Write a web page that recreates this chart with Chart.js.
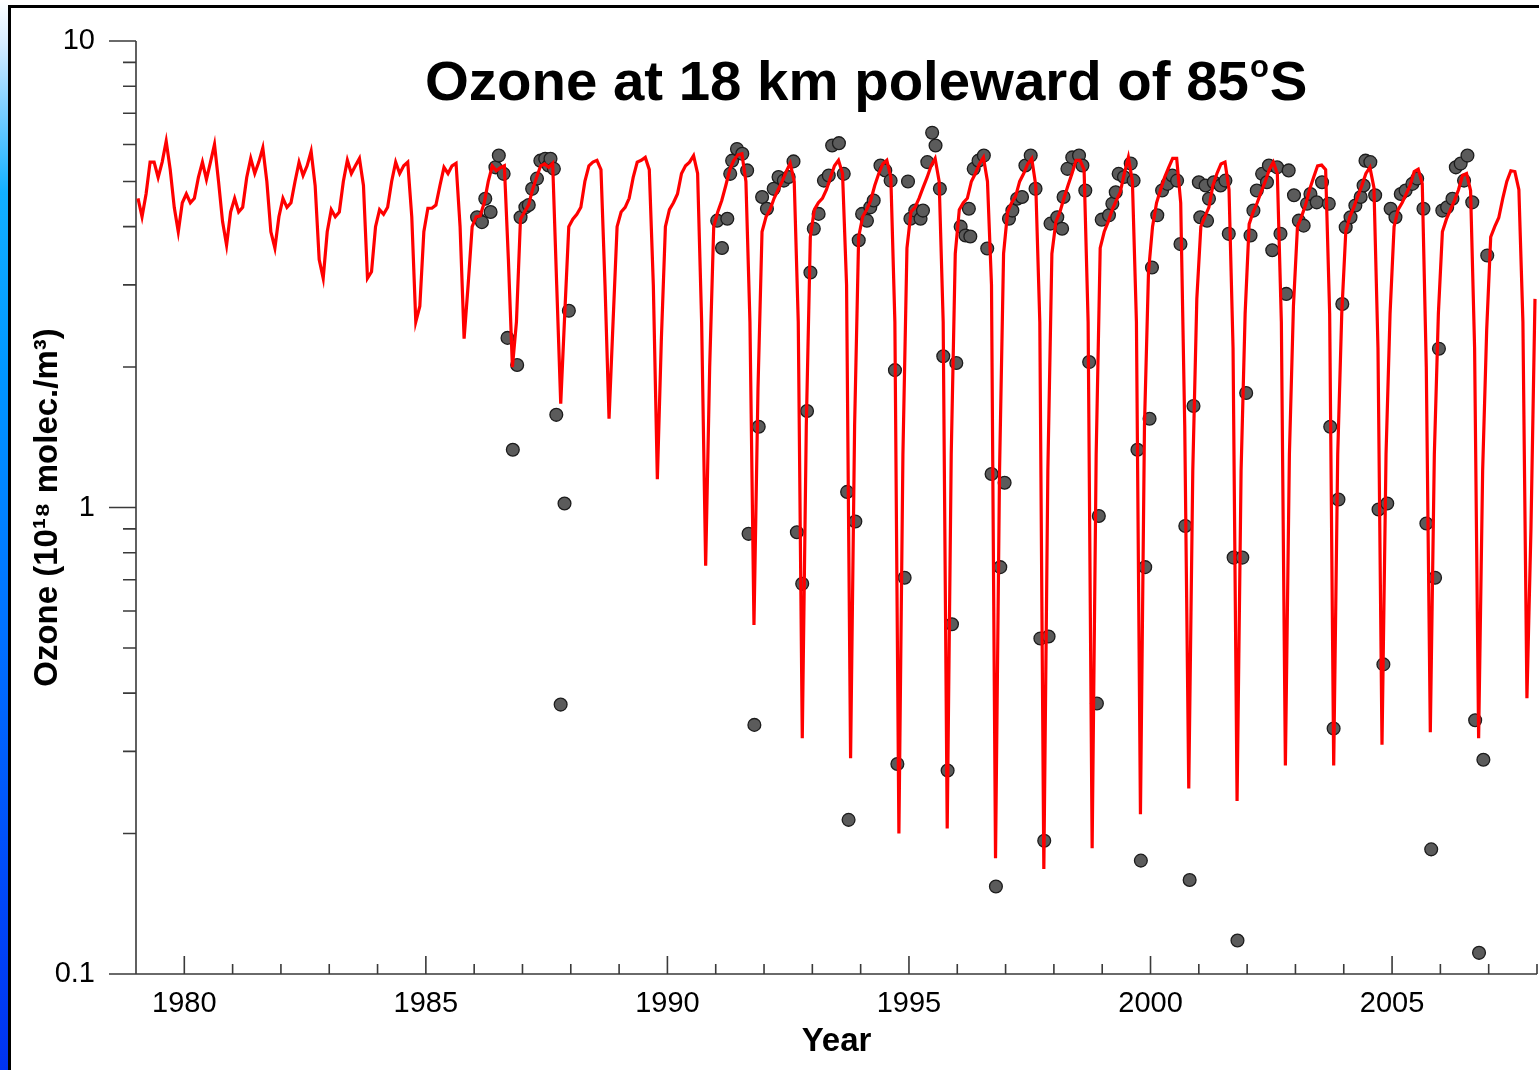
<!DOCTYPE html>
<html>
<head>
<meta charset="utf-8">
<script src="https://cdn.jsdelivr.net/npm/chart.js@4.4.1/dist/chart.umd.min.js"></script>
<style>
html,body{margin:0;padding:0;background:#fff;}
#wrap{position:relative;width:1539px;height:1070px;overflow:hidden;background:#fff;}
#strip{position:absolute;left:0;top:0;width:8px;height:1070px;
  background:linear-gradient(to bottom,#ffffff 0%,#d6ecff 4%,#7fd0ff 10%,#12b0ff 18%,#0096ff 35%,#0070ff 60%,#0046f8 85%,#0033f0 100%);}
#frame{position:absolute;left:8px;top:5px;width:1540px;height:1080px;border-left:3px solid #000;border-top:3px solid #000;}
canvas{position:absolute;left:0;top:0;}
</style>
</head>
<body>
<div id="wrap">
  <div id="strip"></div>
  <div id="frame"></div>
  <canvas id="c" width="1539" height="1070"></canvas>
</div>
<script>
// ---------- DATA ----------
// Model ozone at 18 km (10^18 molec./m^3), monthly Jan..Dec for each year
const modelYears = [1979,1980,1981,1982,1983,1984,1985,1986,1987,1988,1989,1990,1991,1992,1993,
                    1994,1995,1996,1997,1998,1999,2000,2001,2002,2003,2004,2005,2006,2007];
const modelOzone = [
  [4.6, 4.2, 4.7, 5.5, 5.5, 5.1, 5.5, 6.1, 5.3, 4.4, 3.9, 4.5],
  [4.7, 4.5, 4.6, 5.1, 5.5, 5.05, 5.5, 6.0, 5.0, 4.1, 3.65, 4.3],
  [4.6, 4.3, 4.4, 5.1, 5.6, 5.2, 5.5, 5.9, 5.0, 3.9, 3.6, 4.2],
  [4.6, 4.4, 4.5, 5.0, 5.5, 5.15, 5.4, 5.8, 4.9, 3.4, 3.1, 3.9],
  [4.35, 4.2, 4.3, 5.0, 5.55, 5.2, 5.4, 5.6, 4.9, 3.1, 3.2, 4.0],
  [4.35, 4.25, 4.4, 5.0, 5.5, 5.2, 5.4, 5.5, 4.2, 2.5, 2.7, 3.9],
  [4.38, 4.38, 4.45, 4.9, 5.36, 5.2, 5.4, 5.47, 4.0, 2.3, 3.0, 4.0],
  [4.2, 4.22, 4.5, 5.0, 5.4, 5.27, 5.35, 5.4, 3.4, 2.0, 2.5, 4.15],
  [4.3, 4.45, 4.8, 5.1, 5.4, 5.45, 5.36, 5.47, 3.0, 1.67, 2.6, 4.0],
  [4.15, 4.25, 4.4, 5.0, 5.4, 5.5, 5.55, 5.3, 3.0, 1.55, 2.5, 4.0],
  [4.3, 4.4, 4.6, 5.1, 5.5, 5.55, 5.63, 5.3, 3.0, 1.15, 2.3, 4.0],
  [4.35, 4.5, 4.7, 5.2, 5.4, 5.5, 5.68, 5.2, 2.5, 0.75, 2.0, 4.0],
  [4.3, 4.55, 4.9, 5.3, 5.55, 5.7, 5.73, 5.0, 2.5, 0.56, 1.8, 3.9],
  [4.2, 4.35, 4.6, 4.8, 5.0, 5.25, 5.47, 5.0, 2.5, 0.32, 1.5, 3.8],
  [4.35, 4.5, 4.6, 4.8, 5.1, 5.4, 5.55, 5.2, 3.0, 0.29, 1.5, 3.8],
  [4.2, 4.35, 4.55, 4.9, 5.2, 5.45, 5.55, 5.1, 2.5, 0.2, 1.3, 3.6],
  [4.3, 4.4, 4.6, 4.85, 5.1, 5.4, 5.6, 5.0, 2.5, 0.205, 1.3, 3.5],
  [4.35, 4.5, 4.6, 5.0, 5.2, 5.45, 5.63, 5.0, 3.0, 0.177, 1.2, 3.5],
  [4.3, 4.5, 4.65, 5.0, 5.2, 5.45, 5.6, 4.9, 2.5, 0.168, 1.2, 3.5],
  [4.1, 4.3, 4.6, 4.9, 5.2, 5.55, 5.55, 5.3, 2.5, 0.186, 1.3, 3.6],
  [3.9, 4.1, 4.35, 4.55, 4.75, 5.2, 5.63, 5.0, 2.5, 0.22, 1.5, 3.2],
  [4.0, 4.5, 4.8, 5.1, 5.35, 5.6, 5.6, 4.5, 1.5, 0.25, 1.2, 2.8],
  [4.0, 4.2, 4.4, 4.9, 5.2, 5.45, 5.5, 4.8, 2.2, 0.235, 1.2, 2.6],
  [4.05, 4.3, 4.5, 4.75, 5.0, 5.3, 5.5, 5.2, 2.5, 0.28, 1.3, 2.7],
  [4.0, 4.2, 4.45, 4.8, 5.1, 5.4, 5.42, 5.3, 2.6, 0.28, 1.3, 2.6],
  [3.9, 4.2, 4.4, 4.65, 4.9, 5.2, 5.36, 4.85, 2.2, 0.31, 1.3, 2.6],
  [4.0, 4.35, 4.5, 4.7, 4.9, 5.25, 5.31, 4.95, 2.0, 0.33, 1.3, 2.6],
  [3.9, 4.15, 4.35, 4.55, 4.8, 5.15, 5.2, 4.78, 2.2, 0.32, 1.2, 2.4],
  [3.8, 4.0, 4.18, 4.6, 5.0, 5.27, 5.25, 4.8, 2.5, 0.39, 0.9, 2.8]
];

// Ozonesonde observations: decimal year and ozone
const sondeDates = [
  1986.06,1986.16,1986.23,1986.34,1986.44,1986.51,1986.61,1986.69,1986.80,1986.89,1986.96,
  1987.06,1987.13,1987.20,1987.30,1987.37,1987.47,1987.54,1987.58,1987.65,1987.70,1987.79,1987.87,1987.96,
  1991.03,1991.13,1991.24,1991.30,1991.34,1991.44,1991.55,1991.65,1991.68,1991.80,1991.89,1991.96,
  1992.06,1992.20,1992.30,1992.41,1992.51,1992.61,1992.68,1992.79,1992.89,1992.96,
  1993.03,1993.13,1993.24,1993.34,1993.41,1993.55,1993.65,1993.72,1993.75,1993.89,1993.96,
  1994.03,1994.13,1994.20,1994.27,1994.41,1994.51,1994.62,1994.71,1994.76,1994.91,1994.98,
  1995.03,1995.13,1995.24,1995.29,1995.38,1995.48,1995.55,1995.64,1995.71,1995.80,1995.89,1995.98,
  1996.07,1996.17,1996.24,1996.27,1996.34,1996.44,1996.55,1996.62,1996.71,1996.80,1996.89,1996.98,
  1997.07,1997.14,1997.24,1997.34,1997.41,1997.52,1997.62,1997.72,1997.80,1997.89,1997.93,
  1998.07,1998.17,1998.20,1998.28,1998.38,1998.52,1998.59,1998.65,1998.73,1998.89,1998.93,1998.99,
  1999.14,1999.21,1999.28,1999.34,1999.45,1999.59,1999.65,1999.73,1999.80,1999.89,1999.98,
  2000.03,2000.14,2000.24,2000.35,2000.45,2000.55,2000.62,2000.72,2000.81,2000.89,
  2001.00,2001.03,2001.14,2001.17,2001.21,2001.31,2001.45,2001.55,2001.62,2001.72,2001.80,2001.90,2001.98,
  2002.07,2002.13,2002.20,2002.31,2002.41,2002.45,2002.52,2002.62,2002.69,2002.81,2002.86,2002.97,
  2003.07,2003.17,2003.24,2003.31,2003.44,2003.55,2003.69,2003.72,2003.79,2003.89,2003.97,
  2004.04,2004.14,2004.24,2004.35,2004.41,2004.45,2004.55,2004.65,2004.72,2004.82,2004.90,2004.97,
  2005.07,2005.18,2005.28,2005.42,2005.52,2005.65,2005.71,2005.81,2005.89,2005.97,
  2006.04,2006.14,2006.25,2006.32,2006.42,2006.49,2006.56,2006.66,2006.72,2006.80,2006.89,2006.97
];
const sondeOzone = [
  4.19,4.09,4.59,4.30,5.36,5.68,5.19,2.31,1.33,2.02,4.19,
  4.40,4.45,4.82,5.07,5.54,5.59,5.41,5.59,5.32,1.58,0.378,1.02,2.64,
  4.12,3.60,4.16,5.19,5.54,5.87,5.73,5.28,0.878,0.342,1.49,4.63,
  4.37,4.82,5.11,5.02,5.11,5.52,0.885,0.686,1.61,3.19,
  3.96,4.26,5.02,5.15,5.97,6.04,5.19,1.08,0.214,0.933,3.74,
  4.26,4.12,4.40,4.55,5.41,5.28,5.02,1.97,0.282,0.707,5.00,
  4.16,4.33,4.16,4.33,5.50,6.36,5.97,4.82,2.11,0.273,0.562,2.04,
  4.00,3.83,4.37,3.81,5.32,5.54,5.68,3.59,1.18,0.154,0.745,1.13,
  4.16,4.33,4.59,4.63,5.41,5.68,4.82,0.524,0.193,0.529,4.06,
  4.19,3.96,4.63,5.32,5.63,5.68,5.41,4.78,2.05,0.38,0.959,4.14,
  4.23,4.48,4.74,5.19,5.11,5.46,5.02,1.33,0.175,0.745,1.55,
  3.27,4.23,4.78,4.94,5.15,5.02,3.67,0.913,0.159,1.65,
  4.98,4.19,4.90,4.12,4.59,4.98,4.90,5.02,3.86,0.781,0.118,0.781,1.76,
  3.83,4.33,4.78,5.19,4.98,5.41,3.56,5.36,3.86,2.87,5.28,4.67,
  4.12,4.02,4.48,4.70,4.51,4.98,4.48,1.49,0.336,1.04,2.73,
  3.99,4.19,4.44,4.63,4.90,5.54,5.50,4.67,0.99,0.461,1.02,4.37,
  4.19,4.70,4.78,4.94,5.07,4.37,0.924,0.185,0.707,2.19,
  4.33,4.40,4.59,5.36,5.46,5.02,5.68,4.51,0.35,0.111,0.288,3.47
];

// Axis ticks
const xLabelYears = [1980, 1985, 1990, 1995, 2000, 2005];
const xMinorYears = [1980,1981,1982,1983,1984,1985,1986,1987,1988,1989,1990,1991,1992,1993,1994,
                     1995,1996,1997,1998,1999,2000,2001,2002,2003,2004,2005,2006,2007,2008];
const yLabelValues = [0.1, 1, 10];
const yMinorValues = [0.2,0.3,0.4,0.5,0.6,0.7,0.8,0.9,2,3,4,5,6,7,8,9];

// ---------- BUILD ----------
const modelPoints = [];
modelYears.forEach((yr, i) => {
  modelOzone[i].forEach((v, m) => modelPoints.push({x: yr + (m + 0.5) / 12, y: v}));
});
const sondePoints = sondeDates.map((d, i) => ({x: d, y: sondeOzone[i]}));

const FONT = '"Liberation Sans", Arial, Helvetica, sans-serif';

const axesPlugin = {
  id: 'axesDecor',
  beforeDatasetsDraw(chart) {
    const {ctx, chartArea: a, scales: {x, y}} = chart;
    ctx.save();
    ctx.strokeStyle = '#3a3a3a';
    ctx.lineWidth = 1.6;
    ctx.beginPath();
    ctx.moveTo(a.left, a.top);
    ctx.lineTo(a.left, a.bottom);
    ctx.lineTo(a.right, a.bottom);
    yLabelValues.forEach(v => {
      const py = y.getPixelForValue(v);
      ctx.moveTo(a.left - 27, py); ctx.lineTo(a.left, py);
    });
    yMinorValues.forEach(v => {
      const py = y.getPixelForValue(v);
      ctx.moveTo(a.left - 13, py); ctx.lineTo(a.left, py);
    });
    xMinorYears.forEach(v => {
      const px = x.getPixelForValue(v);
      const len = xLabelYears.includes(v) ? 18 : 10;
      ctx.moveTo(px, a.bottom); ctx.lineTo(px, a.bottom - len);
    });
    ctx.stroke();
    ctx.restore();
  }
};

const titlePlugin = {
  id: 'bigTitle',
  afterDraw(chart) {
    const ctx = chart.ctx;
    const main = 'Ozone at 18 km poleward of 85';
    const sup = 'o';
    const tail = 'S';
    const fam = '"Liberation Sans", Arial, sans-serif';
    let size = 50;
    const measure = (s) => {
      ctx.font = `bold ${s}px ${fam}`;
      const w1 = ctx.measureText(main).width;
      const w3 = ctx.measureText(tail).width;
      ctx.font = `bold ${s * 0.55}px ${fam}`;
      const w2 = ctx.measureText(sup).width;
      return w1 + w2 + w3 + 2;
    };
    size = size * 883 / measure(size);
    ctx.save();
    ctx.fillStyle = '#000';
    ctx.textBaseline = 'alphabetic';
    ctx.textAlign = 'left';
    let x0 = 425;
    const base = 100;
    ctx.font = `bold ${size}px ${fam}`;
    ctx.fillText(main, x0, base);
    x0 += ctx.measureText(main).width + 1;
    ctx.font = `bold ${size * 0.55}px ${fam}`;
    ctx.fillText(sup, x0, base - size * 0.4);
    x0 += ctx.measureText(sup).width + 1;
    ctx.font = `bold ${size}px ${fam}`;
    ctx.fillText(tail, x0, base);
    ctx.restore();
  }
};

new Chart(document.getElementById('c'), {
  type: 'scatter',
  data: {
    datasets: [
      {
        label: 'Model',
        data: modelPoints,
        showLine: true,
        borderColor: '#ff0000',
        backgroundColor: '#ff0000',
        borderWidth: 3.2,
        pointRadius: 0,
        pointHoverRadius: 0,
        tension: 0,
        fill: false
      },
      {
        label: 'Ozonesondes',
        data: sondePoints,
        showLine: false,
        pointRadius: 6.4,
        pointHoverRadius: 6.4,
        pointBackgroundColor: '#5b5b5b',
        pointBorderColor: '#1c1c1c',
        pointBorderWidth: 1.3
      }
    ]
  },
  options: {
    responsive: false,
    animation: false,
    devicePixelRatio: 1,
    layout: {autoPadding: false, padding: {left: 0, top: 41, right: 2, bottom: 0}},
    plugins: {legend: {display: false}, tooltip: {enabled: false}, title: {display: false}},
    scales: {
      x: {
        type: 'linear',
        min: 1979,
        max: 2008,
        grid: {display: false, drawTicks: false},
        border: {display: false},
        afterFit(s) { s.height = 96; },
        afterBuildTicks(s) { s.ticks = xLabelYears.map(v => ({value: v})); },
        ticks: {
          autoSkip: false, maxRotation: 0, minRotation: 0, padding: 13,
          color: '#000', font: {family: FONT, size: 29},
          callback: (v) => String(v)
        },
        title: {
          display: true, text: 'Year', color: '#000',
          font: {family: FONT, size: 33, weight: 'bold'},
          padding: {top: 0, bottom: 8}
        }
      },
      y: {
        type: 'logarithmic',
        min: 0.1,
        max: 10,
        grid: {display: true, drawOnChartArea: false, drawTicks: true, tickLength: 41, color: 'rgba(0,0,0,0)'},
        border: {display: false},
        afterFit(s) { s.width = 136; },
        afterBuildTicks(s) { s.ticks = yLabelValues.map(v => ({value: v})); },
        ticks: {
          autoSkip: false, padding: 0,
          color: '#000', font: {family: FONT, size: 29},
          callback: (v) => String(v)
        },
        title: {
          display: true, text: 'Ozone (10¹⁸ molec./m³)', color: '#000',
          font: {family: FONT, size: 33, weight: 'bold'},
          padding: {top: 28, bottom: 0}
        }
      }
    }
  },
  plugins: [axesPlugin, titlePlugin]
});
</script>
</body>
</html>
